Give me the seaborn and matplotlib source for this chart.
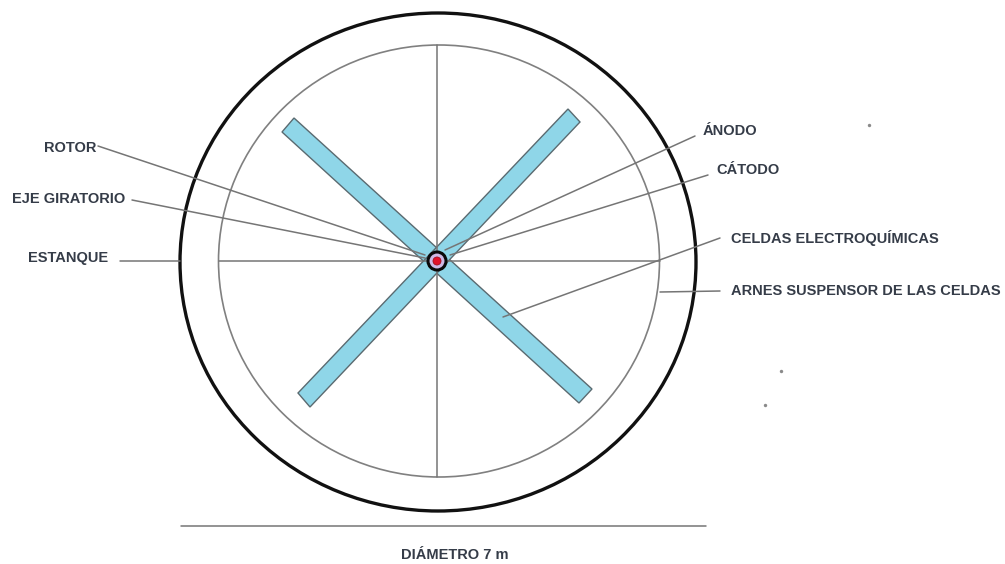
import numpy as np
import pandas as pd
import matplotlib
matplotlib.use('Agg')
import matplotlib.pyplot as plt
from matplotlib.patches import Ellipse, Polygon
import seaborn as sns

# todo en pixeles de la imagen
label_names = ['ROTOR', 'EJE GIRATORIO', 'ESTANQUE', 'ÁNODO', 'CÁTODO',
               'CELDAS ELECTROQUÍMICAS', 'ARNES SUSPENSOR DE LAS CELDAS', 'DIÁMETRO 7 m']
label_x = [44, 12, 28, 703, 716, 731, 731, 401]
label_y = [152, 203, 262, 135, 174, 243, 295, 559]

leader_x0 = [98, 132, 120, 695, 708, 720, 720]
leader_y0 = [146, 200, 261, 136, 175, 238, 291]
leader_x1 = [425, 425, 180, 445, 450, 503, 660]
leader_y1 = [255, 258, 261, 250, 255, 317, 292]

spoke_x0 = [437, 219]
spoke_y0 = [45, 261]
spoke_x1 = [437, 660]
spoke_y1 = [477, 261]

diam_x = [181, 706]
diam_y = [526, 526]

blade_a_x = [282, 294, 592, 579]
blade_a_y = [132, 118, 389, 403]
blade_b_x = [568, 580, 310, 298]
blade_b_y = [109, 122, 407, 393]

speck_x = [869, 781, 765]
speck_y = [125, 371, 405]

sns.set_theme(style='white')
plt.rcParams['font.family'] = ['Liberation Sans', 'DejaVu Sans']

fig, ax = plt.subplots(figsize=(10.05, 5.64), dpi=100)
ax.set_position([0, 0, 1, 1])

# aspas
for bx, by in [(blade_a_x, blade_a_y), (blade_b_x, blade_b_y)]:
    ax.add_patch(Polygon(np.column_stack([bx, by]), closed=True, facecolor='#8fd6e8',
                         edgecolor='#5a6a70', lw=1.0, zorder=2))

# circulos
ax.add_patch(Ellipse((438, 262), 516, 498, fill=False, edgecolor='#111111', lw=2.4, zorder=3))
ax.add_patch(Ellipse((439, 261), 441, 432, fill=False, edgecolor='#808080', lw=1.2, zorder=1))

# radios y lineas guia
seg_rows = []
all_x0 = spoke_x0 + leader_x0 + [diam_x[0]]
all_y0 = spoke_y0 + leader_y0 + [diam_y[0]]
all_x1 = spoke_x1 + leader_x1 + [diam_x[1]]
all_y1 = spoke_y1 + leader_y1 + [diam_y[1]]
for i in range(len(all_x0)):
    seg_rows.append({'seg': i, 'x': all_x0[i], 'y': all_y0[i]})
    seg_rows.append({'seg': i, 'x': all_x1[i], 'y': all_y1[i]})
seg_df = pd.DataFrame(seg_rows)
sns.lineplot(data=seg_df, x='x', y='y', units='seg', estimator=None, sort=False,
             color='#757575', lw=1.1, ax=ax, zorder=4, legend=False)

# eje central
ax.add_patch(Ellipse((437, 261), 18, 18, facecolor='#cdb9e6', edgecolor='#0a0a0a', lw=2.2, zorder=5))
ax.add_patch(Ellipse((437, 261), 8, 8, facecolor='#e3122a', edgecolor='#a01020', lw=0.6, zorder=6))

sns.scatterplot(x=speck_x, y=speck_y, color='#8a8a8a', s=6, linewidth=0, ax=ax, zorder=2)

for name, lx, ly in zip(label_names, label_x, label_y):
    ax.text(lx, ly, name, fontsize=10.55, fontweight='bold', color='#353c48',
            ha='left', va='baseline', zorder=7)

ax.set_xlim(0, 1005)
ax.set_ylim(564, 0)
ax.set_xlabel('')
ax.set_ylabel('')
ax.axis('off')

fig.savefig('out.png', dpi=100, facecolor='white')
